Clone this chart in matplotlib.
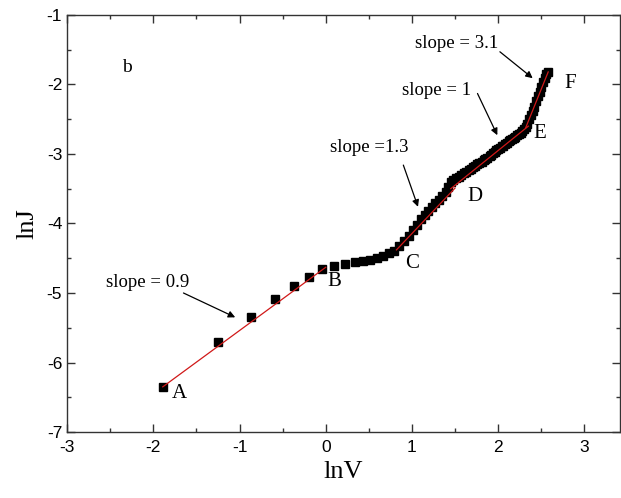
import matplotlib
matplotlib.use("Agg")
import matplotlib.pyplot as plt
from matplotlib.ticker import MultipleLocator

plt.rcParams["axes.unicode_minus"] = False

# ---- data ----
lnV = [-1.89, -1.25, -0.87, -0.59, -0.37, -0.19, -0.04, 0.10, 0.22,
       0.34, 0.43, 0.51, 0.59, 0.66, 0.73, 0.79, 0.85, 0.91, 0.96,
       1.01, 1.06, 1.11, 1.15, 1.19, 1.23, 1.27, 1.31, 1.35, 1.39,
       1.42, 1.45, 1.48, 1.51, 1.54, 1.57, 1.60, 1.63, 1.66, 1.68,
       1.71, 1.73, 1.76, 1.78, 1.81, 1.83, 1.85, 1.87, 1.90, 1.92,
       1.94, 1.96, 1.98, 2.00, 2.02, 2.04, 2.06, 2.08, 2.10, 2.12,
       2.14, 2.16, 2.18, 2.20, 2.22, 2.24, 2.26, 2.28, 2.30, 2.32,
       2.34, 2.36, 2.38, 2.40, 2.42, 2.44, 2.46, 2.48, 2.50, 2.52,
       2.54, 2.56, 2.58]
lnJ = [-6.35, -5.70, -5.34, -5.09, -4.90, -4.77, -4.66, -4.61, -4.58,
       -4.55, -4.54, -4.52, -4.50, -4.47, -4.43, -4.39, -4.33, -4.25, -4.18,
       -4.09, -4.02, -3.94, -3.88, -3.82, -3.77, -3.71, -3.66, -3.61, -3.55,
       -3.48, -3.41, -3.37, -3.34, -3.33, -3.30, -3.28, -3.26, -3.23, -3.21,
       -3.19, -3.17, -3.15, -3.13, -3.11, -3.09, -3.07, -3.06, -3.03, -3.01,
       -2.99, -2.97, -2.95, -2.93, -2.91, -2.89, -2.88, -2.86, -2.84, -2.82,
       -2.80, -2.78, -2.77, -2.75, -2.73, -2.71, -2.70, -2.67, -2.64, -2.61,
       -2.57, -2.50, -2.44, -2.38, -2.32, -2.24, -2.17, -2.11, -2.04, -1.97,
       -1.91, -1.85, -1.82]

# fitted segments (start/end in lnV, lnJ)
fit_x0 = [-1.89, 0.82, 1.45, 2.32]
fit_x1 = [0.00, 1.50, 2.35, 2.58]
fit_y0 = [-6.35, -4.38, -3.50, -2.62]
fit_y1 = [-4.63, -3.49, -2.60, -1.82]

point_labels = ["A", "B", "C", "D", "E", "F"]
point_lx = [-1.70, 0.10, 1.00, 1.73, 2.48, 2.83]
point_ly = [-6.45, -4.84, -4.57, -3.61, -2.70, -1.98]

slope_texts = ["slope = 0.9", "slope =1.3", "slope = 1", "slope = 3.1"]
slope_tx = [-2.07, 0.50, 1.29, 1.52]
slope_ty = [-4.85, -2.90, -2.08, -1.41]
arrow_x0 = [-1.65, 0.90, 1.76, 2.02]
arrow_y0 = [-5.00, -3.16, -2.13, -1.53]
arrow_x1 = [-1.05, 1.07, 1.99, 2.40]
arrow_y1 = [-5.35, -3.76, -2.73, -1.91]

serif = "Liberation Serif"
sans = "Liberation Sans"

fig = plt.figure(figsize=(6.21, 4.98), dpi=100)
ax = fig.add_axes([0.108, 0.1325, 0.890, 0.8375])

ax.plot(lnV, lnJ, linestyle="none", marker="s", markersize=5.2,
        color="black", zorder=2)
for x0, x1, y0, y1 in zip(fit_x0, fit_x1, fit_y0, fit_y1):
    ax.plot([x0, x1], [y0, y1], color="#d01818", linewidth=0.9, zorder=3)

for t, x, y in zip(point_labels, point_lx, point_ly):
    ax.text(x, y, t, fontsize=15, family=serif, ha="center", va="center")

for t, x, y in zip(slope_texts, slope_tx, slope_ty):
    ax.text(x, y, t, fontsize=13.5, family=serif, ha="center", va="center")

for x0, y0, x1, y1 in zip(arrow_x0, arrow_y0, arrow_x1, arrow_y1):
    ax.annotate("", xy=(x1, y1), xytext=(x0, y0),
                arrowprops=dict(arrowstyle="-|>", color="black", lw=0.9,
                                mutation_scale=10, shrinkA=0, shrinkB=0))

ax.text(-2.3, -1.76, "b", fontsize=14, family=serif, ha="center", va="center")

ax.set_xlim(-3, 3.41)
ax.set_ylim(-7, -1)
ax.xaxis.set_major_locator(MultipleLocator(1))
ax.xaxis.set_minor_locator(MultipleLocator(0.5))
ax.yaxis.set_major_locator(MultipleLocator(1))
ax.yaxis.set_minor_locator(MultipleLocator(0.5))
ax.tick_params(which="both", direction="in", top=True, right=True,
               labelsize=12.5, color="#333333")
ax.tick_params(which="major", length=6, width=1)
ax.tick_params(which="minor", length=3, width=1)
for lab in ax.get_xticklabels() + ax.get_yticklabels():
    lab.set_family(sans)
ax.xaxis.set_tick_params(pad=6)
for s in ax.spines.values():
    s.set_linewidth(1.0)
    s.set_color("#333333")

ax.set_xlabel("lnV", fontsize=19, family=serif, labelpad=4)
ax.set_ylabel("lnJ", fontsize=19, family=serif, labelpad=6)

fig.savefig("out.png", dpi=100)
